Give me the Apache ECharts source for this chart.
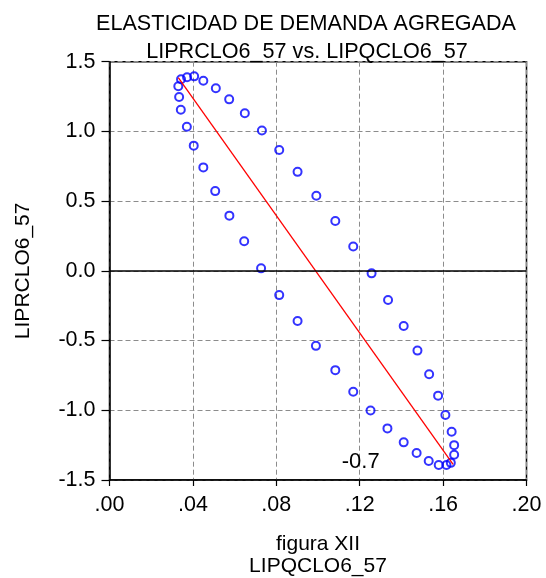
<!DOCTYPE html>
<html>
<head>
<meta charset="utf-8">
<script src="https://cdn.jsdelivr.net/npm/echarts@6/dist/echarts.min.js"></script>
<style>
  html, body { margin: 0; padding: 0; background: #fff; }
  #main { width: 546px; height: 578px; }
</style>
</head>
<body>
<div id="main"></div>
<script>
// scatter LIPQCLO6_57 (x) vs LIPRCLO6_57 (y)
const qVals = [0.0330, 0.0343, 0.0372, 0.0406, 0.0450, 0.0510, 0.0574, 0.0649, 0.0731, 0.0814,
  0.0902, 0.0992, 0.1083, 0.1169, 0.1257, 0.1336, 0.1411, 0.1477, 0.1533, 0.1576,
  0.1611, 0.1641, 0.1653, 0.1653, 0.1637, 0.1616, 0.1579, 0.1531, 0.1473, 0.1411,
  0.1333, 0.1252, 0.1169, 0.1083, 0.0990, 0.0902, 0.0814, 0.0727, 0.0646, 0.0575,
  0.0507, 0.0450, 0.0404, 0.0371, 0.0342, 0.0334];
const pVals = [1.324, 1.374, 1.388, 1.395, 1.363, 1.309, 1.230, 1.130, 1.006, 0.867,
  0.710, 0.538, 0.357, 0.174, -0.018, -0.209, -0.396, -0.572, -0.742, -0.895,
  -1.034, -1.154, -1.250, -1.319, -1.377, -1.392, -1.392, -1.364, -1.307, -1.230,
  -1.130, -1.001, -0.867, -0.712, -0.538, -0.360, -0.174, 0.018, 0.212, 0.396,
  0.572, 0.742, 0.898, 1.033, 1.155, 1.247];

// fitted line end points
const fitX = [0.0330, 0.1648];
const fitY = [1.386, -1.388];

// slope annotation
const noteText = '-0.7';
const notePos = [0.1205, -1.370];

const xTicks = [0, 0.04, 0.08, 0.12, 0.16, 0.20];
const yTicks = [-1.5, -1.0, -0.5, 0.0, 0.5, 1.0, 1.5];

const FONT = "'Liberation Sans', Arial, sans-serif";

const chart = echarts.init(document.getElementById('main'));

chart.setOption({
  backgroundColor: '#fff',
  animation: false,
  title: [
    { text: 'ELASTICIDAD DE DEMANDA AGREGADA', left: 301, top: 8, textAlign: 'center',
      textStyle: { fontFamily: FONT, fontSize: 21.6, fontWeight: 'normal', color: '#000' } },
    { text: 'LIPRCLO6_57 vs. LIPQCLO6_57', left: 302, top: 36, textAlign: 'center',
      textStyle: { fontFamily: FONT, fontSize: 21.6, fontWeight: 'normal', color: '#000' } }
  ],
  grid: {
    left: 109.5, right: 19.5, top: 61.7, bottom: 98,
    outerBoundsMode: 'none', containLabel: false,
    show: true, borderColor: '#000', borderWidth: 1.5, backgroundColor: 'transparent'
  },
  xAxis: {
    type: 'value', min: xTicks[0], max: xTicks[xTicks.length - 1], interval: 0.04,
    name: 'figura XII\nLIPQCLO6_57', nameLocation: 'middle', nameGap: 53,
    nameTextStyle: { fontFamily: FONT, fontSize: 21, color: '#000', lineHeight: 22 },
    axisLine: { show: true, onZero: false, lineStyle: { color: '#000', width: 1.5 } },
    axisTick: { show: true, inside: false, length: 6, lineStyle: { color: '#000', width: 1.2 } },
    axisLabel: { fontFamily: FONT, fontSize: 21.5, color: '#000', margin: 14,
      formatter: v => v.toFixed(2).replace(/^0/, '') },
    splitLine: { show: true, lineStyle: { color: '#8c8c8c', type: [5, 3], width: 1 } }
  },
  yAxis: {
    type: 'value', min: yTicks[0], max: yTicks[yTicks.length - 1], interval: 0.5,
    name: 'LIPRCLO6_57', nameLocation: 'middle', nameGap: 76, nameRotate: 90,
    nameTextStyle: { fontFamily: FONT, fontSize: 21, color: '#000' },
    axisLine: { show: true, onZero: false, lineStyle: { color: '#000', width: 1.5 } },
    axisTick: { show: true, inside: false, length: 8, lineStyle: { color: '#000', width: 1.2 } },
    axisLabel: { fontFamily: FONT, fontSize: 21.5, color: '#000', margin: 14,
      formatter: v => v.toFixed(1) },
    splitLine: { show: true, lineStyle: { color: '#8c8c8c', type: [5, 3], width: 1 } }
  },
  series: [
    {
      type: 'line',
      data: [],
      markLine: {
        silent: true, symbol: 'none', label: { show: false },
        lineStyle: { color: '#000', width: 1.5, type: 'solid' },
        data: [{ yAxis: 0 }]
      }
    },
    {
      type: 'scatter',
      data: qVals.map((q, i) => [q, pVals[i]]),
      symbol: 'circle',
      symbolSize: 8,
      itemStyle: { color: 'rgba(255,255,255,0)', borderColor: '#0000ff', borderWidth: 2 },
      z: 3
    },
    {
      type: 'line',
      data: fitX.map((x, i) => [x, fitY[i]]),
      showSymbol: false,
      lineStyle: { color: '#ff0000', width: 1.3 },
      z: 4
    }
  ]
});

// place the slope note at its data position
const notePx = chart.convertToPixel({ gridIndex: 0 }, notePos);
chart.setOption({
  graphic: [{
    type: 'text', x: notePx[0], y: notePx[1], z: 10,
    style: { text: noteText, fill: '#000', font: "22px 'Liberation Sans', Arial, sans-serif",
      textAlign: 'center', textVerticalAlign: 'middle' }
  }]
});
</script>
</body>
</html>
